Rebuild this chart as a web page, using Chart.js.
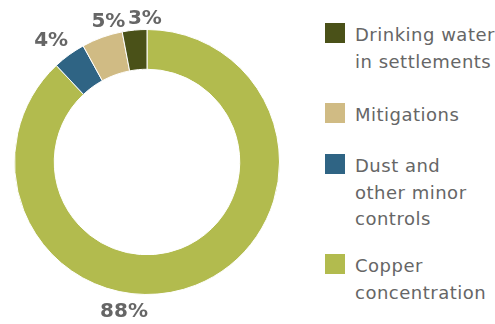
<!DOCTYPE html>
<html>
<head>
<meta charset="utf-8">
<script src="https://cdn.jsdelivr.net/npm/chart.js@4.4.0/dist/chart.umd.min.js"></script>
<style>
  html, body { margin: 0; padding: 0; background: #fff; }
  #wrap { position: relative; width: 495px; height: 324px; }
  #chartBox { position: absolute; left: 0; top: 0; width: 294px; height: 324px; }
  #legend { position: absolute; left: 325px; top: 0; font-family: "DejaVu Sans", sans-serif; font-size: 18px; letter-spacing: 0.5px; color: #666; }
  .item { position: absolute; left: 0; padding-left: 30px; line-height: 26.5px; white-space: nowrap; }
  .item .box { position: absolute; left: 0; top: 1px; width: 20px; height: 20px; }
</style>
</head>
<body>
<div id="wrap">
  <div id="chartBox"><canvas id="donut"></canvas></div>
  <div id="legend"></div>
</div>
<script>
// Data (clockwise from 12 o'clock)
const categories = ["Copper concentration", "Dust and other minor controls", "Mitigations", "Drinking water in settlements"];
const legendLines = [["Copper", "concentration"], ["Dust and", "other minor", "controls"], ["Mitigations"], ["Drinking water", "in settlements"]];
const values = [88, 4, 5, 3];
const colors = ["#b2bb4e", "#2f6484", "#d0bb84", "#4a5118"];
// label nudges relative to radial position
const labelNudge = [[-78, 11], [-8, 0], [12, 0], [12, 6]];
// legend item tops (top to bottom)
const legendTops = [22, 102, 153, 253];

// Percentage labels outside the ring
const outerLabels = {
  id: "outerLabels",
  afterDatasetsDraw(chart) {
    const ctx = chart.ctx;
    const meta = chart.getDatasetMeta(0);
    ctx.save();
    ctx.font = "bold 20px 'DejaVu Sans', sans-serif";
    ctx.fillStyle = "#666";
    ctx.textAlign = "center";
    ctx.textBaseline = "middle";
    meta.data.forEach(function (arc, i) {
      const mid = (arc.startAngle + arc.endAngle) / 2;
      const r = arc.outerRadius + 17;
      const x = arc.x + Math.cos(mid) * r + labelNudge[i][0];
      const y = arc.y + Math.sin(mid) * r + labelNudge[i][1];
      ctx.fillText(values[i] + "%", x, y);
    });
    ctx.restore();
  },
};

const donutCtx = document.getElementById("donut").getContext("2d");
const donutChart = new Chart(donutCtx, {
  type: "doughnut",
  data: {
    labels: categories,
    datasets: [
      {
        data: values,
        backgroundColor: colors,
        borderColor: "#fff",
        borderWidth: 1,
      },
    ],
  },
  options: {
    responsive: true,
    maintainAspectRatio: false,
    animation: false,
    cutout: "70%",
    layout: { padding: { left: 14, right: 14, top: 29, bottom: 29 } },
    plugins: {
      legend: { display: false },
      tooltip: { enabled: false },
    },
  },
  plugins: [outerLabels],
});

// Legend, in reverse order of the ring
const legendEl = document.getElementById("legend");
for (let i = categories.length - 1; i >= 0; i--) {
  const item = document.createElement("div");
  item.className = "item";
  item.style.top = legendTops[categories.length - 1 - i] + "px";
  item.innerHTML = '<span class="box" style="background:' + colors[i] + '"></span>' + legendLines[i].join("<br>");
  legendEl.appendChild(item);
}
</script>
</body>
</html>
